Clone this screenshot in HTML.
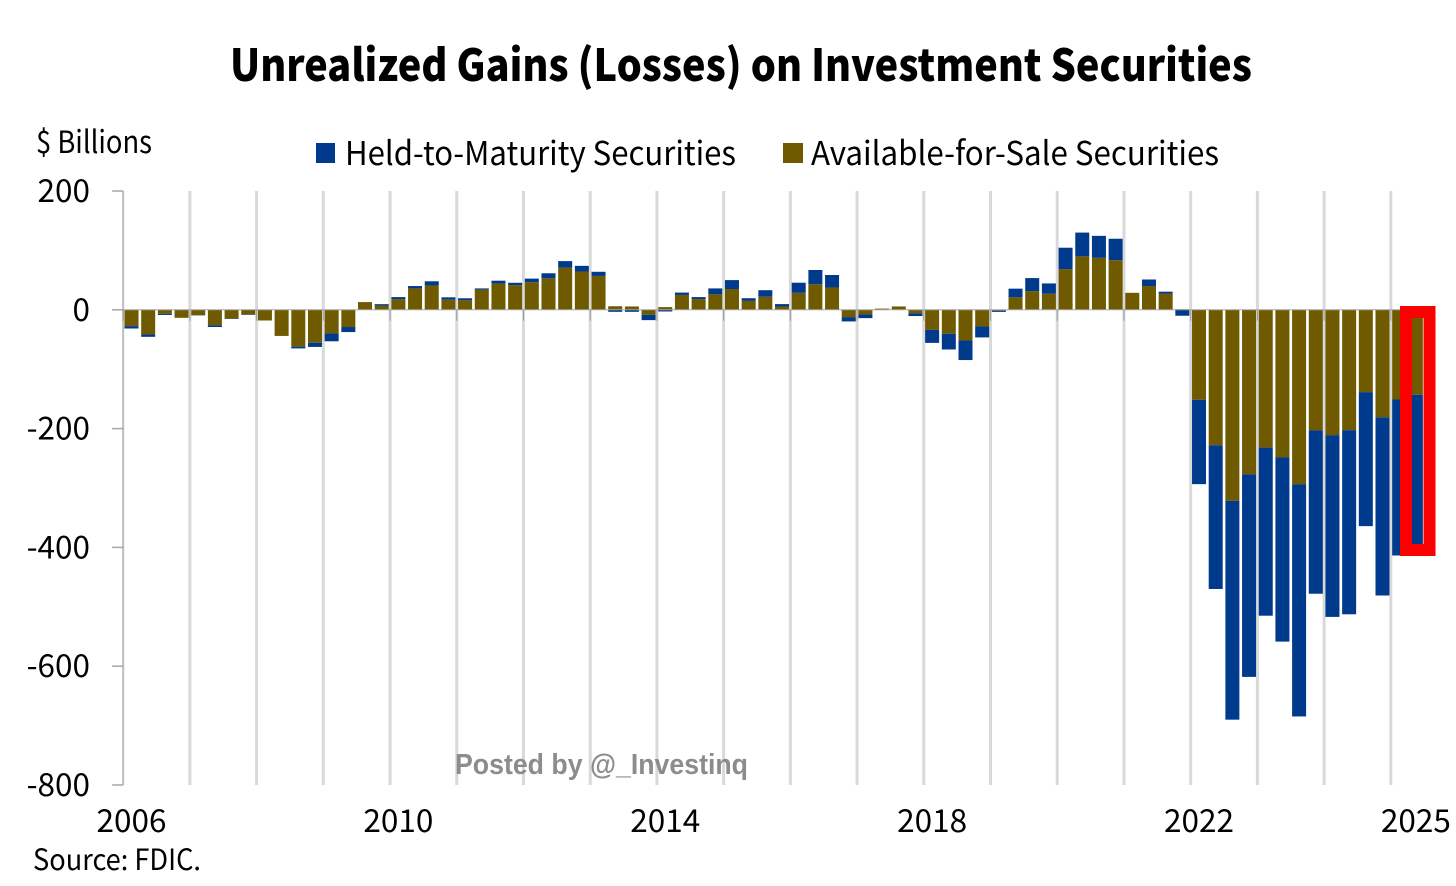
<!DOCTYPE html>
<html>
<head>
<meta charset="utf-8">
<title>Unrealized Gains (Losses) on Investment Securities</title>
<style>
html,body{margin:0;padding:0;background:#fff;width:1456px;height:886px;overflow:hidden}
svg{display:block}
text{font-family:"Noto Sans CJK JP","Liberation Sans",sans-serif;fill:#000}
</style>
</head>
<body>
<svg id="chart" xmlns="http://www.w3.org/2000/svg" width="1456" height="886" viewBox="0 0 1456 886">
  <text x="230" y="81" font-size="44" font-weight="900" textLength="1022" lengthAdjust="spacingAndGlyphs">Unrealized Gains (Losses) on Investment Securities</text>
  <text x="36" y="153" font-size="31" textLength="116" lengthAdjust="spacingAndGlyphs">$ Billions</text>
  <g>
    <rect x="316" y="143" width="19" height="20" fill="#003a8c"/>
    <text x="345" y="165" font-size="33" textLength="391" lengthAdjust="spacingAndGlyphs">Held-to-Maturity Securities</text>
    <rect x="783" y="143" width="20" height="20" fill="#6f5a00"/>
    <text x="811" y="165" font-size="33" textLength="408" lengthAdjust="spacingAndGlyphs">Available-for-Sale Securities</text>
  </g>
  <g id="grid"></g>
  <g id="yaxis"></g>
  <g id="bars"></g>
  <g id="xaxis"></g>
  <rect x="1406" y="312" width="23.5" height="238" fill="none" stroke="#fb0000" stroke-width="12"/>
  <text x="455" y="774" font-size="29" font-weight="700" textLength="293" lengthAdjust="spacingAndGlyphs" style="font-family:'Liberation Sans',sans-serif;fill:#8c8c8c">Posted by @_Investinq</text>
  <text x="33" y="870" font-size="29" textLength="168" lengthAdjust="spacingAndGlyphs">Source: FDIC.</text>
</svg>
<script>
var afsValues = [-27.5,-41.5,-6.7,-13.5,-9,-26,-15,-8,-18,-44,-62,-55.5,-40,-29,13,7.3,18,36,41,17,16,34,44,41.5,46.5,53,71,64.5,57,6,5.6,-8.4,4.5,25,18,26,35,15,22,5.6,28.6,43,37.6,-12.3,-8,2,5.6,-6,-33.7,-40.4,-51.6,-28,-1.5,21,31.4,27,68.5,90,87.5,83.6,28.6,40,27.5,1,-151.5,-228,-321.5,-277,-232,-248.6,-294,-203,-211,-202.6,-138.6,-181,-151,-143];
var htmValues = [-4,-4,-2,0,-0.5,-3,-0.5,-0.5,0,0,-3,-7,-13,-8.5,0,2.2,3.4,4,7,4,3.4,2,5,4,6,8.5,11,9.5,7,-3.4,-3.4,-9,-2.8,4,3.4,10,15,4.5,11,4,17,24,21,-7.3,-6,0,0,-4.5,-22,-26.4,-33,-18.5,-2,14.6,22,17.4,36,40,37,36,0,11,3,-10,-142,-242,-368.5,-341,-283,-310,-390.6,-275,-306,-310,-225.6,-300,-262.6,-252];
var yTicks = [200,0,-200,-400,-600,-800];
var yearGridQuarters = [0,4,8,12,16,20,24,28,32,36,40,44,48,52,56,60,64,68,72,76];
var xTickLabels = ["2006","2010","2014","2018","2022","2025"];
var xTickQuarters = [0,16,32,48,64,77];

var NS = "http://www.w3.org/2000/svg";
var yTop = 191, yBottom = 785, yMax = 200, yMin = -800;
var step = 16.68, firstCenter = 131.5, barWidth = 14;
function xScale(i){ return firstCenter + step * i; }
function yScale(v){ return yTop + (yMax - v) * (yBottom - yTop) / (yMax - yMin); }
function make(tag, attrs, parent){
  var el = document.createElementNS(NS, tag);
  for (var k in attrs) el.setAttribute(k, attrs[k]);
  parent.appendChild(el);
  return el;
}
var grid = document.getElementById('grid');
var yaxis = document.getElementById('yaxis');
var barsG = document.getElementById('bars');
var xaxis = document.getElementById('xaxis');
var zeroY = yScale(0);
var axisX = xScale(0) - step / 2;

yearGridQuarters.forEach(function(q){
  var x = xScale(q) - step / 2;
  var line = make('line', {x1:x, x2:x, y1:yTop, y2:yBottom, stroke: q === 0 ? '#bdbdbd' : '#d9d9d9', 'stroke-width': q === 0 ? 2 : 3}, grid);
  
  
});

yTicks.forEach(function(v){
  var y = yScale(v);
  var tick = make('line', {x1:axisX - 11, x2:axisX, y1:y, y2:y, stroke:'#a6a6a6', 'stroke-width':1.5}, yaxis);
  
  
  var label = make('text', {x:90, y:y + 11, 'font-size':31.5, 'text-anchor':'end'}, yaxis);
  
  
  label.textContent = String(v);
});

function addBar(i, from, to, color, name){
  if (from === to) return;
  var top = Math.min(yScale(from), yScale(to));
  var h = Math.abs(yScale(from) - yScale(to));
  var r = make('rect', {x:xScale(i) - barWidth / 2, y:top, width:barWidth, height:h, fill:color}, barsG);
  
  
}
afsValues.forEach(function(a, i){
  var h = htmValues[i];
  addBar(i, 0, a, '#6f5a00', 'bar-available-for-sale');
  var base = (a * h > 0) ? a : 0;
  addBar(i, base, base + h, '#003a8c', 'bar-held-to-maturity');
});

var zero = make('line', {x1:axisX - 11, x2:xScale(afsValues.length - 1), y1:zeroY, y2:zeroY, stroke:'#a6a6a6', 'stroke-width':1}, xaxis);


yearGridQuarters.forEach(function(q){
  var x = xScale(q) - step / 2;
  var t = make('line', {x1:x, x2:x, y1:zeroY, y2:zeroY + 11, stroke:'#9a9a9a', 'stroke-width':1}, xaxis);
  
  
});
xTickLabels.forEach(function(s, i){
  var label = make('text', {x:xScale(xTickQuarters[i]), y:832, 'font-size':31.5, 'text-anchor':'middle'}, xaxis);
  
  
  label.textContent = s;
});
</script>
</body>
</html>
